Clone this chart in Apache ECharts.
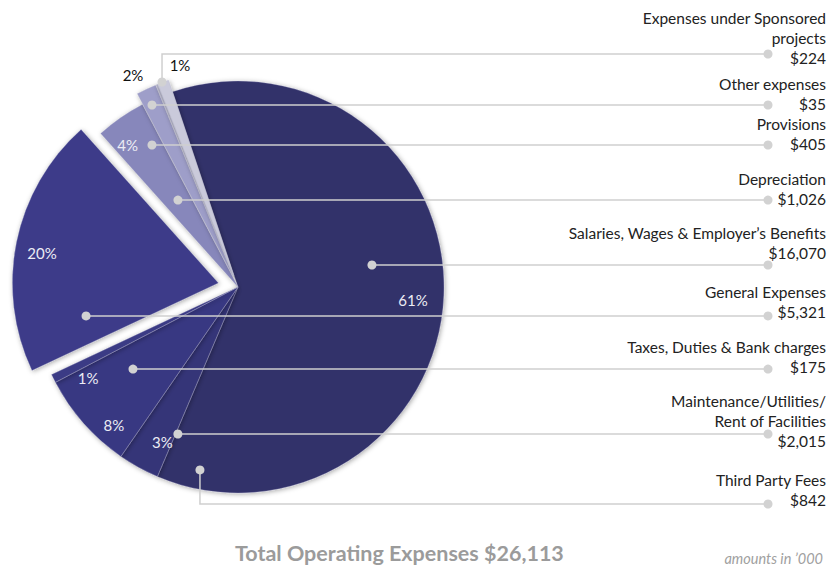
<!DOCTYPE html>
<html><head><meta charset="utf-8">
<script src="https://cdn.jsdelivr.net/npm/echarts@6/dist/echarts.min.js"></script>
<style>html,body{margin:0;padding:0;background:#fff}#c{width:836px;height:570px}</style>
</head><body><div id="c"></div>
<script>
// ---- data ----
const categories = [
  'Salaries, Wages & Employer\u2019s Benefits',
  'Third Party Fees',
  'Maintenance/Utilities/\nRent of Facilities',
  'Taxes, Duties & Bank charges',
  'General Expenses',
  'Depreciation',
  'Provisions',
  'Other expenses',
  'Expenses under Sponsored\nprojects'
];
const values = [16070, 842, 2015, 175, 5321, 1026, 405, 35, 224];
const titleText = 'Total Operating Expenses $26,113';
const noteText = 'amounts in \u2019000';

// ---- style / layout ----
const sliceColors = ['#31306b', '#363578', '#393882', '#3b3a85', '#3c3b89', '#8787bb', '#9e9ec9', '#b6b6ca', '#cacadb'];
const pctColors = ['#ececf4', '#ececf4', '#ececf4', '#ececf4', '#ececf4', '#ececf4', '#111', '#111', '#111'];
const explodeOffset = [0, 0, 0, 0, 20, 0, 12, 12, 12];
const CX = 238, CY = 287, R = 206, START = 108.5;
const LINE_END_X = 768, LABEL_RIGHT_X = 826;
const anchorNudge = [11.6, 17.1, 26.3, 11.65, 25.5, -0.1, 6.84, 3.68, 0.31];
const anchorRadius = [0.659, 0.907, 0.771, 0.647, 0.662, 0.513, 0.748, 0.919, 1.003];
const elbowY = [null, 504, null, null, null, null, null, null, 54];
const valueDy = [-12, -4, 7, -2, -4, -1, -1, -1, 4];
const pctNudge = [-1.9, 2.86, 6.5, 4.85, 1.83, 3.1, 1.57, 0, -5.71];
const pctRadius = [0.852, 0.838, 0.9, 0.851, 0.869, 0.874, 1.09, 0, 1.056];

const total = values.reduce((a, b) => a + b, 0);
const geom = [];
(function () {
  let a = START;
  values.forEach((v, i) => {
    const span = v / total * 360;
    const mid = a - span / 2;
    const mr = mid * Math.PI / 180;
    geom.push({ start: a, end: a - span, mid,
      ox: explodeOffset[i] * Math.cos(mr), oy: -explodeOffset[i] * Math.sin(mr) });
    a -= span;
  });
})();
function polar(i, nudge, rf) {
  const g = geom[i];
  const t = (g.mid + nudge) * Math.PI / 180;
  return [CX + g.ox + R * rf * Math.cos(t), CY + g.oy - R * rf * Math.sin(t)];
}
const anchors = values.map((v, i) => polar(i, anchorNudge[i], anchorRadius[i]));
const lineYs = anchors.map((p, i) => elbowY[i] != null ? elbowY[i] : p[1]);

const FONT = 'Lato, "Open Sans", sans-serif';
const base = { type: 'pie', radius: R, startAngle: START, clockwise: true, silent: true,
  avoidLabelOverlap: false, selectedMode: false, emphasis: { disabled: true } };

const series = [];
// one slice series per category so each slice can be pulled out by its own offset
categories.forEach((c, k) => {
  series.push(Object.assign({}, base, {
    center: [CX + geom[k].ox, CY + geom[k].oy],
    label: { show: false }, labelLine: { show: false },
    data: categories.map((cc, i) => ({
      name: cc, value: values[i],
      itemStyle: i === k
        ? { color: sliceColors[i], borderColor: 'rgba(185,185,210,0.55)', borderWidth: 0.6,
            shadowBlur: 5, shadowColor: 'rgba(0,0,0,0.35)', shadowOffsetX: 1, shadowOffsetY: 1 }
        : { color: 'rgba(0,0,0,0)', borderWidth: 0 }
    })),
    z: 2
  }));
});
// percentage labels
series.push(Object.assign({}, base, {
  center: [CX, CY], percentPrecision: 0,
  itemStyle: { color: 'rgba(0,0,0,0)', borderWidth: 0 },
  label: { show: true, position: 'inside', fontFamily: FONT, fontSize: 15,
    formatter: p => p.percent === 0 ? '' : p.percent + '%' },
  labelLine: { show: false },
  labelLayout: params => {
    const i = params.dataIndex;
    const p = polar(i, pctNudge[i], pctRadius[i]);
    return { x: p[0], y: p[1], align: 'center', verticalAlign: 'middle' };
  },
  data: categories.map((c, i) => ({ name: c, value: values[i], label: { color: pctColors[i] } })),
  z: 4
}));
// category labels with leader lines
series.push(Object.assign({}, base, {
  center: [CX, CY],
  itemStyle: { color: 'rgba(0,0,0,0)', borderWidth: 0 },
  label: { show: true, position: 'outside', fontFamily: FONT, fontSize: 15.5, lineHeight: 20,
    color: '#222', align: 'right',
    formatter: p => p.name + '\n$' + p.value.toLocaleString('en-US') },
  labelLine: { show: true, lineStyle: { color: '#cfcfcf', width: 1.5 } },
  labelLayout: params => {
    const i = params.dataIndex;
    const a = anchors[i], ly = lineYs[i];
    return {
      x: LABEL_RIGHT_X, y: ly + valueDy[i] + 10, align: 'right', verticalAlign: 'bottom',
      labelLinePoints: [[a[0], a[1]], [a[0], ly], [LINE_END_X, ly]]
    };
  },
  data: categories.map((c, i) => ({ name: c, value: values[i] })),
  z: 3
}));

const graphics = [];
anchors.forEach((p, i) => {
  graphics.push({ type: 'circle', shape: { cx: p[0], cy: p[1], r: 4.5 }, style: { fill: '#d2d2d2' }, z: 100 });
  graphics.push({ type: 'circle', shape: { cx: LINE_END_X, cy: lineYs[i], r: 4.5 }, style: { fill: '#d2d2d2' }, z: 100 });
});

const chart = echarts.init(document.getElementById('c'), null, { renderer: 'svg' });
chart.setOption({
  animation: false,
  backgroundColor: '#fff',
  title: [
    { text: titleText, left: 230, top: 537,
      textStyle: { fontFamily: FONT, fontWeight: 'bold', fontSize: 21.5, color: '#9b9b9b' } },
    { text: noteText, right: 8, top: 546,
      textStyle: { fontFamily: FONT, fontStyle: 'italic', fontWeight: 'normal', fontSize: 14.5, color: '#a0a0a0' } }
  ],
  graphic: graphics,
  series: series
});
</script>
</body></html>
